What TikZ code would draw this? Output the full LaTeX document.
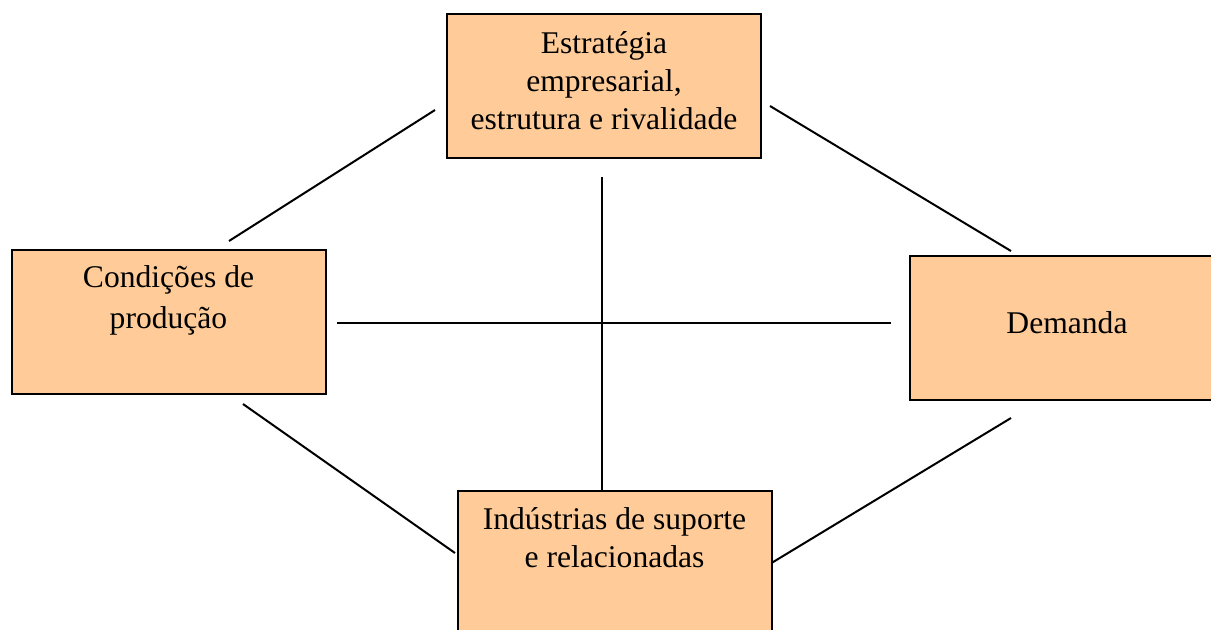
\documentclass[tikz,border=0pt]{standalone}
\usepackage{fontspec}
\setmainfont{Liberation Serif}
\usetikzlibrary{positioning}
\definecolor{peach}{HTML}{FFCC99}

\begin{document}
\begin{tikzpicture}[x=0.5pt, y=-0.5pt, line width=1pt]
    \tikzstyle{box} = [draw, fill=peach, minimum width=157pt, minimum height=72pt,
        inner sep=0pt, outer sep=0pt, align=center,
        font=\fontsize{15.8}{19}\selectfont]
    \tikzstyle{txt} = [align=center, inner sep=0pt, font=\fontsize{15.8}{19}\selectfont]
    \useasboundingbox (0,0) rectangle (1211,629);
    \clip (0,0) rectangle (1211,629);
    \node [box] at (604,86) (est) {};
    \node [box] at (168.5,322) (cond) {};
    \node [box] at (1067,328) (dem) {\raisebox{2.5pt}[\height][\depth]{Demanda}};
    \node [box] at (614.5,563) (ind) {};
    \node [txt, below=8.5pt of est.north] (est-t) {Estratégia\\empresarial,\\estrutura e rivalidade};
    \node [txt, below=7.5pt of cond.north] (cond-t) {Condições de\\[1.5pt]produção};
    \node [txt, below=8pt of ind.north] (ind-t) {Indústrias de suporte\\e relacionadas};
    % loose ends of the links
    \coordinate (a1) at (435,110);
    \coordinate (a2) at (229,241);
    \coordinate (b1) at (770,106);
    \coordinate (b2) at (1011,251);
    \coordinate (c1) at (243,404);
    \coordinate (c2) at (455,553);
    \coordinate (d1) at (1011,418);
    \coordinate (h1) at (337,323);
    \coordinate (h2) at (891,323);
    \coordinate (v1) at (602,177);
    \draw (a1) -- (a2);
    \draw (b1) -- (b2);
    \draw (c1) -- (c2);
    \draw (d1) -- (ind.east);
    \draw (h1) -- (h2);
    \draw (v1) -- (v1 |- ind.north);
\end{tikzpicture}
\end{document}
